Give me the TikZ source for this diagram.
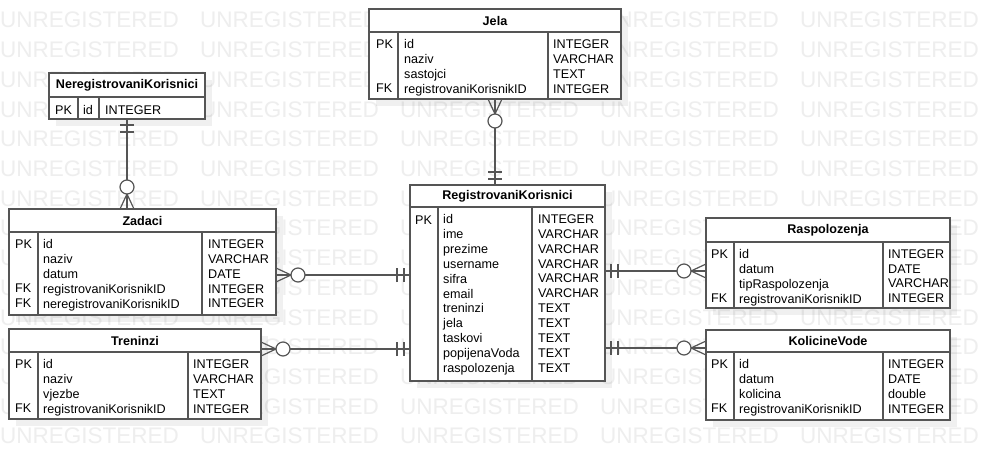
\documentclass[tikz,border=0pt]{standalone}
\usepackage{fontspec}
\setmainfont{Liberation Sans}
\usetikzlibrary{shadows}
\definecolor{erline}{HTML}{555555}
\definecolor{wmgray}{HTML}{EEEEEE}

\tikzset{
  erl/.style={draw=erline, line width=1.2pt},
  tbl/.style={erl, fill=white, anchor=north west, inner sep=0pt, outer sep=0pt,
    drop shadow={shadow xshift=7pt, shadow yshift=-7pt, fill=black, opacity=0.06}},
  headtext/.style={font=\bfseries\fontsize{12.6}{15}\selectfont, inner sep=0pt},
  coltext/.style={font=\fontsize{12.6}{14.85}\selectfont, align=left, anchor=north west,
    inner sep=0pt, yshift=7.8pt, execute at begin node={\rule{0pt}{10pt}}},
  wmark/.style={font=\fontsize{22.5}{27}\selectfont, text=wmgray, anchor=base west, inner sep=0pt},
  pics/onlyone/.style={code={\draw[erl] (6,-7) -- (6,7) (13,-7) -- (13,7);}},
  pics/zeromany/.style={code={\draw[erl] (0,-7) -- (15,0) -- (0,7) (0,0) -- (15,0);
    \draw[erl, fill=white] (22,0) circle (7);}}
}

\begin{document}
\begin{tikzpicture}[x=1pt, y=-1pt]
  \useasboundingbox (0,0) rectangle (996,460);
  \fill[white] (0,0) rectangle (996,460);
  \foreach \row in {0,...,14}
    \foreach \col in {0,...,4}
      \node[wmark] (wm\row-\col) at (200*\col, 28+29.7*\row) {UNREGISTERED};

  % NeregistrovaniKorisnici
  \node[tbl, minimum width=156pt, minimum height=46pt] (nereg) at (49,73) {};
  \node[headtext] (neregT) at (127,85) {NeregistrovaniKorisnici};
  \draw[erl] (49,97) -- (205,97) (78,97) -- (78,119) (99,97) -- (99,119);
  \node[coltext] (neregK) at (55,112) {PK};
  \node[coltext] (neregN) at (83,112) {id};
  \node[coltext] (neregY) at (105,112) {INTEGER};

  % Jela
  \node[tbl, minimum width=252pt, minimum height=90pt] (jela) at (369,9) {};
  \node[headtext] (jelaT) at (495,20.5) {Jela};
  \draw[erl] (369,32) -- (621,32) (398,32) -- (398,99) (548,32) -- (548,99);
  \node[coltext] (jelaK) at (376,47.3) {PK\\ \\ \\FK};
  \node[coltext] (jelaN) at (404,47.3) {id\\naziv\\sastojci\\registrovaniKorisnikID};
  \node[coltext] (jelaY) at (553,47.3) {INTEGER\\VARCHAR\\TEXT\\INTEGER};

  % Zadaci
  \node[tbl, minimum width=267pt, minimum height=106pt] (zadaci) at (9,209) {};
  \node[headtext] (zadaciT) at (142.5,220.5) {Zadaci};
  \draw[erl] (9,232) -- (276,232) (38,232) -- (38,315) (202,232) -- (202,315);
  \node[coltext] (zadaciK) at (15,247.3) {PK\\ \\ \\FK\\FK};
  \node[coltext] (zadaciN) at (43,247.3) {id\\naziv\\datum\\registrovaniKorisnikID\\neregistrovaniKorisnikID};
  \node[coltext] (zadaciY) at (208,247.3) {INTEGER\\VARCHAR\\DATE\\INTEGER\\INTEGER};

  % Treninzi
  \node[tbl, minimum width=252pt, minimum height=90pt] (tren) at (9,329) {};
  \node[headtext] (trenT) at (135,340.5) {Treninzi};
  \draw[erl] (9,352) -- (261,352) (38,352) -- (38,419) (188,352) -- (188,419);
  \node[coltext] (trenK) at (15,367.3) {PK\\ \\ \\FK};
  \node[coltext] (trenN) at (43,367.3) {id\\naziv\\vjezbe\\registrovaniKorisnikID};
  \node[coltext] (trenY) at (193,367.3) {INTEGER\\VARCHAR\\TEXT\\INTEGER};

  % RegistrovaniKorisnici
  \node[tbl, minimum width=195pt, minimum height=196pt] (regk) at (410,185) {};
  \node[headtext] (regkT) at (507.5,196) {RegistrovaniKorisnici};
  \draw[erl] (410,207) -- (605,207) (438,207) -- (438,381) (532,207) -- (532,381);
  \node[coltext] (regkK) at (415,222.3) {PK};
  \node[coltext] (regkN) at (443,222.3) {id\\ime\\prezime\\username\\sifra\\email\\treninzi\\jela\\taskovi\\popijenaVoda\\raspolozenja};
  \node[coltext] (regkY) at (538,222.3) {INTEGER\\VARCHAR\\VARCHAR\\VARCHAR\\VARCHAR\\VARCHAR\\TEXT\\TEXT\\TEXT\\TEXT\\TEXT};

  % Raspolozenja
  \node[tbl, minimum width=244pt, minimum height=90pt] (rasp) at (706,218) {};
  \node[headtext] (raspT) at (828,230) {Raspolozenja};
  \draw[erl] (706,242) -- (950,242) (734,242) -- (734,308) (883,242) -- (883,308);
  \node[coltext] (raspK) at (711,257) {PK\\ \\ \\FK};
  \node[coltext] (raspN) at (739,257) {id\\datum\\tipRaspolozenja\\registrovaniKorisnikID};
  \node[coltext] (raspY) at (888,257) {INTEGER\\DATE\\VARCHAR\\INTEGER};

  % KolicineVode
  \node[tbl, minimum width=244pt, minimum height=90pt] (kol) at (706,330) {};
  \node[headtext] (kolT) at (828,341) {KolicineVode};
  \draw[erl] (706,352) -- (950,352) (734,352) -- (734,420) (883,352) -- (883,420);
  \node[coltext] (kolK) at (711,367.3) {PK\\ \\ \\FK};
  \node[coltext] (kolN) at (739,367.3) {id\\datum\\kolicina\\registrovaniKorisnikID};
  \node[coltext] (kolY) at (888,367.3) {INTEGER\\DATE\\double\\INTEGER};

  % veze
  \draw[erl] (nereg.south) -- (zadaci.north -| nereg.south);
  \draw[erl] (jela.south) -- (regk.north -| jela.south);
  \draw[erl] (zadaci.east |- 0,275) -- (regk.west |- 0,275);
  \draw[erl] (tren.east |- 0,349) -- (regk.west |- 0,349);
  \draw[erl] (regk.east |- 0,271) -- (rasp.west |- 0,271);
  \draw[erl] (regk.east |- 0,348) -- (kol.west |- 0,348);

  \pic[rotate=-90] at (nereg.south) {onlyone};
  \pic[rotate=90] at (zadaci.north -| nereg.south) {zeromany};
  \pic[rotate=-90] at (jela.south) {zeromany};
  \pic[rotate=90] at (regk.north -| jela.south) {onlyone};
  \pic at (zadaci.east |- 0,275) {zeromany};
  \pic[rotate=180] at (regk.west |- 0,275) {onlyone};
  \pic at (tren.east |- 0,349) {zeromany};
  \pic[rotate=180] at (regk.west |- 0,349) {onlyone};
  \pic at (regk.east |- 0,271) {onlyone};
  \pic[rotate=180] at (rasp.west |- 0,271) {zeromany};
  \pic at (regk.east |- 0,348) {onlyone};
  \pic[rotate=180] at (kol.west |- 0,348) {zeromany};
\end{tikzpicture}
\end{document}
